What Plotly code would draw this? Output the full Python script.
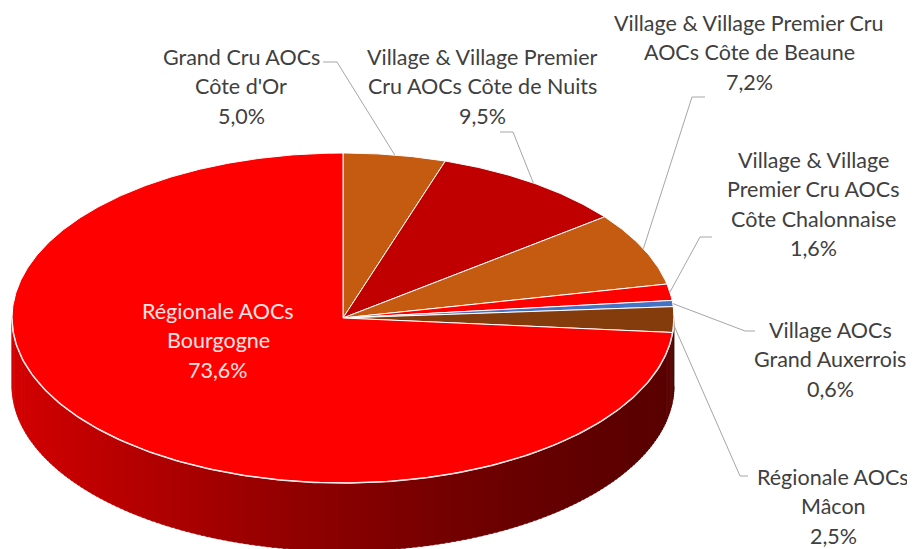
import numpy as np
import plotly.graph_objects as go

# ---------------- data ----------------
categories = [
    "Grand Cru AOCs Côte d'Or",
    "Village & Village Premier Cru AOCs Côte de Nuits",
    "Village & Village Premier Cru AOCs Côte de Beaune",
    "Village & Village Premier Cru AOCs Côte Chalonnaise",
    "Village AOCs Grand Auxerrois",
    "Régionale AOCs Mâcon",
    "Régionale AOCs Bourgogne",
]
values = [5.0, 9.5, 7.2, 1.6, 0.6, 2.5, 73.6]
colors = ["#C55A11", "#C00000", "#C55A11", "#FF0000", "#4472C4", "#843C0C", "#FF0000"]
label_lines = [
    ["Grand Cru AOCs", "Côte d'Or"],
    ["Village & Village Premier", "Cru AOCs Côte de Nuits"],
    ["Village & Village Premier Cru", "AOCs Côte de Beaune"],
    ["Village & Village", "Premier Cru AOCs", "Côte Chalonnaise"],
    ["Village AOCs", "Grand Auxerrois"],
    ["Régionale AOCs", "Mâcon"],
    ["Régionale AOCs", "Bourgogne"],
]

# ---------------- geometry / style ----------------
W, H = 915, 549
OFF = 8  # page body margin compensation
cx, cy, rx, ry, depth = 343, 318, 331, 165, 68
label_pos = [(241, 57), (482, 57), (749, 23), (813, 160), (830, 330), (833, 477), (218, 311)]
line_gap = 29.3
leader_pts = [
    [(323, 62), (337, 62)],
    [(500, 132), (513, 132)],
    [(705, 97), (692, 97)],
    [(712, 237), (700, 237)],
    [(755, 331), (745, 331)],
    [(748, 476), (740, 476)],
    None,
]
text_color = "#404040"
font_family = "Lato"
font_size = 21.5


def pt(theta_deg):
    t = np.radians(theta_deg)
    return cx + rx * np.sin(t), cy - ry * np.cos(t)


def hex_to_rgb(h):
    h = h.lstrip("#")
    return tuple(int(h[i:i + 2], 16) for i in (0, 2, 4))


total = sum(values)
bounds = np.concatenate([[0], np.cumsum(values)]) / total * 360.0

fig = go.Figure()

# ---- side walls (front half: 90..270 degrees clockwise from top) ----
step = 1.0
for i, (a0, a1) in enumerate(zip(bounds[:-1], bounds[1:])):
    s0, s1 = max(a0, 90.0), min(a1, 270.0)
    if s1 <= s0:
        continue
    base = hex_to_rgb(colors[i])
    n = max(1, int(np.ceil((s1 - s0) / step)))
    edges = np.linspace(s0, s1, n + 1)
    for e0, e1 in zip(edges[:-1], edges[1:]):
        th = np.linspace(e0, min(e1 + 0.4, s1), 4)
        xs, ys = pt(th)
        xm = pt((e0 + e1) / 2)[0]
        t = (xm - (cx - rx)) / (2 * rx)
        f = 0.35 + 0.48 * (1 - t) ** 1.39
        c = "rgb(%d,%d,%d)" % tuple(int(v * f) for v in base)
        px = list(xs) + list(xs[::-1])
        py = list(ys) + list((ys + depth)[::-1])
        fig.add_trace(go.Scatter(x=px, y=py, mode="lines", fill="toself",
                                 fillcolor=c, line=dict(color=c, width=0.6),
                                 hoverinfo="skip", showlegend=False))

# ---- top face slices ----
for i, (a0, a1) in enumerate(zip(bounds[:-1], bounds[1:])):
    th = np.linspace(a0, a1, max(3, int((a1 - a0) / 0.5) + 2))
    xs, ys = pt(th)
    px = [cx] + list(xs) + [cx]
    py = [cy] + list(ys) + [cy]
    fig.add_trace(go.Scatter(x=px, y=py, mode="lines", fill="toself",
                             fillcolor=colors[i], line=dict(color="white", width=1),
                             hoverinfo="skip", showlegend=False, name=categories[i]))

# white rim between top and side
th = np.linspace(90, 270, 200)
xs, ys = pt(th)
fig.add_trace(go.Scatter(x=xs, y=ys, mode="lines", line=dict(color="#F4E8E8", width=1.5),
                         hoverinfo="skip", showlegend=False))

# ---- leader lines ----
for i, lp in enumerate(leader_pts):
    if lp is None:
        continue
    mid = (bounds[i] + bounds[i + 1]) / 2
    ax, ay = pt(mid)
    if i == 5:
        ay += 6
    xsl = [p[0] for p in lp] + [ax]
    ysl = [p[1] for p in lp] + [ay]
    fig.add_trace(go.Scatter(x=xsl, y=ysl, mode="lines", line=dict(color="#A6A6A6", width=1),
                             hoverinfo="skip", showlegend=False))

# ---- labels ----
annotations = []
for i, lines in enumerate(label_lines):
    pct = ("%.1f%%" % values[i]).replace(".", ",")
    all_lines = lines + [pct]
    x0, y0 = label_pos[i]
    col = "#FFE4E4" if i == len(values) - 1 else text_color
    for k, ln in enumerate(all_lines):
        annotations.append(dict(x=x0, y=y0 + k * line_gap, text=ln, showarrow=False,
                                xanchor="center", yanchor="middle",
                                font=dict(family=font_family, size=font_size, color=col)))

fig.update_layout(
    width=W, height=H,
    margin=dict(l=0, r=0, t=0, b=0),
    paper_bgcolor="white", plot_bgcolor="white",
    xaxis=dict(range=[OFF, W + OFF], visible=False, fixedrange=True),
    yaxis=dict(range=[H + OFF, OFF], visible=False, fixedrange=True),
    annotations=annotations,
    showlegend=False,
)

fig.write_html("out.html")
